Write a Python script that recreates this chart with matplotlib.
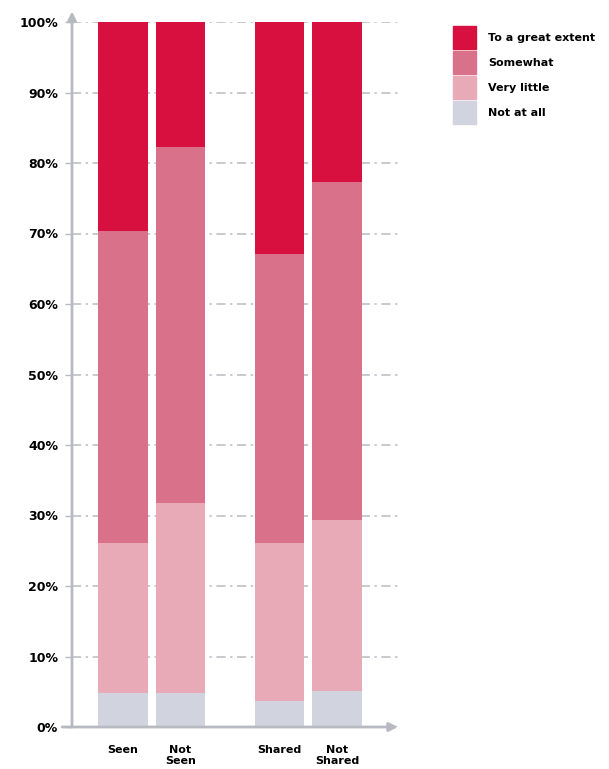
import numpy as np
import matplotlib.pyplot as plt
from matplotlib.patches import Patch

plt.rcParams['font.family'] = ['DejaVu Sans']

# Share of respondents per group (%)
groups = ['Seen', 'Not\nSeen', 'Shared', 'Not\nShared']
not_at_all = [4.8, 4.8, 3.7, 5.1]
very_little = [21.3, 27.0, 22.4, 24.3]
somewhat = [44.3, 50.5, 41.0, 47.9]
great_extent = [29.6, 17.7, 32.9, 22.7]

series = [not_at_all, very_little, somewhat, great_extent]
names = ['Not at all', 'Very little', 'Somewhat', 'To a great extent']
colors = ['#d1d3de', '#e9aab8', '#d9718a', '#d7103f']

xpos = np.array([0, 1, 2.72, 3.72])

fig = plt.figure(figsize=(6.09, 7.69), dpi=100)
ax = fig.add_axes([72 / 609, 42 / 769, 326 / 609, 705 / 769])

bottom = np.zeros(len(groups))
for vals, c, n in zip(series, colors, names):
    ax.bar(xpos, vals, width=0.86, bottom=bottom, color=c, label=n, zorder=2)
    bottom += np.array(vals)

ax.set_xlim(-0.887, 4.78)
ax.set_ylim(0, 100)

ax.set_yticks(np.arange(0, 101, 10))
ax.set_yticklabels([f'{v}%' for v in range(0, 101, 10)], fontsize=9, fontweight='bold')
ax.tick_params(axis='y', length=5, width=1, color='#b8bac2', pad=5)
ax.set_xticks(xpos)
ax.set_xticklabels(groups, fontsize=8, fontweight='bold', linespacing=1.1, va='top')
ax.tick_params(axis='x', length=0, pad=13)

ax.yaxis.grid(True, color='#b8bac2', linestyle=(0, (6, 3, 1.5, 3)), linewidth=1.1, zorder=0)
for s in ax.spines.values():
    s.set_visible(False)

# axis lines with arrow heads
arrow = dict(arrowstyle='-|>', color='#b8bac2', lw=2, mutation_scale=13, shrinkA=0, shrinkB=0)
ax.annotate('', xy=(0, 1.015), xytext=(0, 0), xycoords='axes fraction',
            arrowprops=arrow, annotation_clip=False)
ax.annotate('', xy=(1.0, 0), xytext=(-0.03, 0), xycoords='axes fraction',
            arrowprops=arrow, annotation_clip=False)

handles = [Patch(color=c) for c in colors[::-1]]
fig.legend(handles, names[::-1], loc='upper left', bbox_to_anchor=(443 / 609, 1 - 16 / 769),
           frameon=False, handlelength=2.07, handleheight=2.8, labelspacing=0.18,
           handletextpad=1.1, prop=dict(size=8, weight='bold'))

fig.savefig('out.png', dpi=100)
